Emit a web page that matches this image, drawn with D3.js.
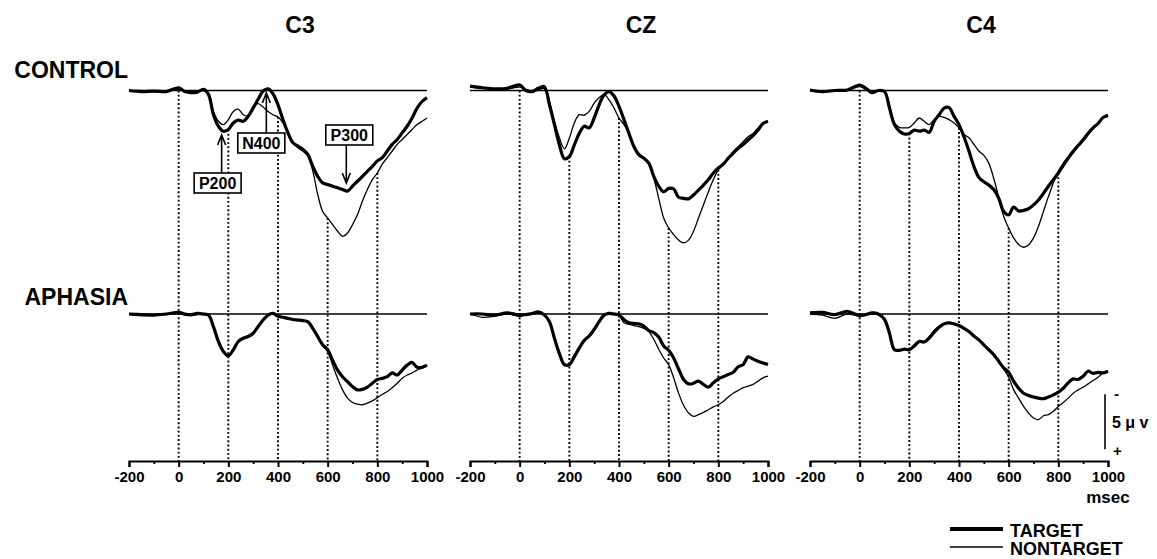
<!DOCTYPE html>
<html lang="en">
<head>
<meta charset="UTF-8">
<title>ERP waveforms C3 / CZ / C4</title>
<script src="https://cdnjs.cloudflare.com/ajax/libs/d3/7.8.5/d3.min.js"></script>
<style>
  body { margin: 0; background: #fff; }
  svg { display: block; font-family: "Liberation Sans", Arial, Helvetica, sans-serif; font-weight: bold; }
</style>
</head>
<body>
<svg id="chart" width="1157" height="559"></svg>
<script>
// time points (msec)
const msec = [-200,-150,-100,-50,0,25,50,75,100,120,140,160,180,200,220,240,260,280,300,320,340,360,380,400,
  420,440,460,480,500,520,540,560,580,600,620,640,660,680,700,720,740,760,780,800,820,840,860,880,900,920,940,960,980,1000];

const channels = ["C3", "CZ", "C4"];
const groups = ["CONTROL", "APHASIA"];
const xTicks = [-200, 0, 200, 400, 600, 800, 1000];
const xMinorTicks = [-100, 100, 300, 500, 700, 900];
const markTimes = [0, 200, 400, 600, 800];
const legendLabels = ["TARGET", "NONTARGET"];
const peakLabels = ["P200", "N400", "P300"];
const peakTimes = [173, 353, 675];

// amplitudes in uV, positive plotted downward
const c3ControlTarget = [0,0.1,0.05,0.1,-0.25,0.1,0.2,0.15,-0.1,0.35,2.2,3.25,3.7,3.55,2.95,2.7,2.8,2.35,1.6,0.8,0.05,-0.15,0.3,1.3,
  2.65,3.85,4.75,5.05,5.35,5.8,6.9,7.8,8.4,8.55,8.7,8.85,9.0,9.15,8.7,8.25,7.8,7.35,6.9,6.4,6.1,5.5,4.9,4.45,3.85,3.25,2.5,1.6,1.0,0.65];
const c3ControlNontarget = [0.05,0,0.1,0.05,-0.1,0.05,0.15,0.1,0,0.35,1.9,2.8,3.1,2.65,1.9,1.7,2.2,2.3,1.4,1.2,1.5,1.9,2.2,2.4,
  2.95,3.85,4.75,5.2,5.5,5.95,7.3,9.45,11.0,11.6,12.2,12.8,13.25,12.95,12.2,11.3,10.05,9.0,8.1,7.5,6.7,6.1,5.5,4.9,4.45,4.0,3.55,3.1,2.8,2.5];
const czControlTarget = [-0.4,-0.25,-0.15,-0.2,-0.5,0,0.1,-0.15,-0.25,1.3,3.1,4.95,6.2,6.0,4.95,3.9,3.25,3.4,2.5,1.3,0.4,0.1,0.5,1.45,
  2.65,3.9,5.1,5.85,6.15,6.6,7.8,8.7,9.2,8.9,8.95,9.7,9.8,9.85,9.5,9.05,8.6,8.1,7.5,7.05,6.7,6.15,5.7,5.25,4.9,4.5,4.1,3.6,3.0,2.8];
const czControlNontarget = [-0.3,-0.2,-0.1,-0.15,-0.3,-0.1,0,-0.3,-0.45,1.0,2.8,4.3,5.3,4.35,2.95,2.2,2.25,1.9,1.15,0.65,0.35,0.85,1.6,2.5,
  3.1,3.9,4.95,5.7,6.15,6.6,7.95,9.8,11.6,12.5,13.1,13.6,13.85,13.6,12.8,11.6,10.4,9.2,8.1,7.2,6.6,6.15,5.55,5.1,4.65,4.2,3.9,3.4,3.0,2.8];
const c4ControlTarget = [-0.05,0.1,0,-0.05,-0.5,-0.2,0.2,0,0.1,1.6,3.1,3.7,3.95,3.9,3.6,3.7,3.6,3.8,2.8,2.2,1.6,1.55,2.35,3.1,
  4.2,5.5,6.9,7.9,8.3,8.6,9.0,9.8,11.0,11.3,10.6,10.95,10.9,10.75,10.4,9.95,9.35,8.7,8.1,7.5,6.8,6.15,5.55,5.0,4.5,3.9,3.4,3.0,2.45,2.25];
const c4ControlNontarget = [0,0.15,0,0,-0.35,-0.1,0.2,0,0.05,1.3,2.95,3.35,3.4,3.35,2.95,2.5,2.8,3.1,2.65,2.35,2.45,2.65,2.95,3.4,
  4.0,4.3,4.9,5.5,5.9,6.6,8.0,9.7,11.45,12.5,13.4,14.0,14.25,14.05,13.4,12.35,11.0,9.65,8.4,7.35,6.6,6.0,5.4,4.9,4.35,3.8,3.35,3.0,2.5,2.35];

const c3AphasiaTarget = [0,0.05,0.1,0,-0.15,0,0.05,-0.05,0,0.1,1.15,2.5,3.4,3.8,3.25,2.5,2.2,2.05,1.75,1.15,0.55,0.1,-0.05,0.2,
  0.3,0.4,0.5,0.55,0.6,0.7,1.3,2.05,2.8,3.25,4.2,5.1,5.7,6.15,6.6,6.9,6.85,6.65,6.3,5.95,5.85,5.7,5.35,5.55,5.1,4.65,4.4,4.85,4.85,4.65];
const c3AphasiaNontarget = [0,0.15,0.05,0.05,-0.05,0.1,0.15,0.05,0.05,0.1,1.2,2.6,3.45,3.75,3.2,2.5,2.2,2.05,1.7,1.1,0.5,0.1,0,0.15,
  0.25,0.35,0.45,0.55,0.6,0.75,1.35,2.1,2.9,3.4,4.65,5.85,6.9,7.65,8.05,8.2,8.25,8.1,7.9,7.6,7.3,7.05,6.7,6.3,5.85,5.55,5.35,5.1,4.9,4.65];
const czAphasiaTarget = [0,0,0.1,-0.1,0.1,0.05,-0.05,-0.2,0.1,0.7,2.2,3.6,4.6,4.6,3.9,3.1,2.4,2.0,1.4,0.7,0.1,-0.05,0,0.1,
  0.5,0.8,0.85,0.9,1.1,1.5,1.7,2.1,2.9,3.3,4.0,5.0,5.95,6.35,6.3,6.1,6.4,6.65,6.25,5.9,5.7,5.5,5.3,4.8,4.6,3.9,4.1,4.3,4.45,4.6];
const czAphasiaNontarget = [0,0.3,0.2,0,0.2,0.05,0,-0.1,0.1,0.7,2.1,3.5,4.55,4.5,3.7,3.0,2.4,1.9,1.3,0.6,0.1,-0.05,0,0.1,
  0.8,0.95,1.05,1.15,1.3,1.6,2.3,3.2,4.0,4.6,5.8,7.2,8.3,9.0,9.3,9.15,8.95,8.7,8.45,8.25,7.95,7.55,7.2,6.95,6.7,6.55,6.4,6.1,5.8,5.65];
const c4AphasiaTarget = [-0.1,-0.15,0.05,-0.25,0.15,0.05,-0.1,0,0.5,1.75,3.25,3.3,3.2,3.25,2.9,2.5,2.55,2.2,1.65,1.2,0.9,0.8,0.9,1.05,
  1.3,1.6,2.0,2.35,2.8,3.25,3.7,4.3,4.9,5.3,6.1,6.75,7.2,7.4,7.55,7.65,7.7,7.55,7.35,7.1,6.75,6.25,5.9,5.95,5.65,5.2,5.4,5.3,5.35,5.2];
const c4AphasiaNontarget = [0,0.1,0.4,0,0.2,0.1,0,0,0.5,1.7,3.2,3.3,3.15,3.2,2.8,2.45,2.5,2.05,1.5,1.1,0.85,0.8,0.9,1.05,
  1.3,1.6,2.0,2.35,2.8,3.2,3.6,4.3,5.0,5.75,6.9,7.65,8.4,9.0,9.45,9.6,9.25,9.15,8.85,8.4,8.05,7.65,7.2,6.9,6.65,6.35,6.05,5.75,5.35,5.2];

const series = [
  [[c3ControlTarget, c3ControlNontarget], [czControlTarget, czControlNontarget], [c4ControlTarget, c4ControlNontarget]],
  [[c3AphasiaTarget, c3AphasiaNontarget], [czAphasiaTarget, czAphasiaNontarget], [c4AphasiaTarget, c4AphasiaNontarget]]
];

// layout
const panelLeft = [129, 470, 810];
const panelWidth = 298;
const rowZero = [90.5, 314];
const pxPerUV = 11;
const axisY = 461;
const widths = [3.2, 1.3];

const svg = d3.select("#chart");

const xScales = panelLeft.map(l => d3.scaleLinear().domain([-200, 1000]).range([l, l + panelWidth]));
const yScales = rowZero.map(z => d3.scaleLinear().domain([0, 1]).range([z, z + pxPerUV]));

// channel titles
svg.selectAll(".title").data(channels).join("text")
  .attr("class", "title")
  .attr("x", (d, i) => (panelLeft[i] + panelWidth / 2) + 22)
  .attr("y", 33)
  .attr("text-anchor", "middle")
  .attr("font-size", 23)
  .text(d => d);

// group labels
svg.selectAll(".group").data(groups).join("text")
  .attr("class", "group")
  .attr("x", 128)
  .attr("y", (d, i) => [78, 305][i])
  .attr("text-anchor", "end")
  .attr("font-size", 23)
  .text(d => d);

const line = (x, y) => d3.line()
  .x((d, i) => x(msec[i]))
  .y(d => y(d))
  .curve(d3.curveCatmullRom.alpha(0.5));

channels.forEach((ch, c) => {
  const x = xScales[c];
  const g = svg.append("g");

  // dotted latency markers, from the control curve down to the axis
  const ctl = series[0][c];
  markTimes.forEach(t => {
    const k = msec.indexOf(t);
    const v = Math.max(ctl[0][k], ctl[1][k], 0);
    g.append("line")
      .attr("x1", x(t)).attr("x2", x(t))
      .attr("y1", yScales[0](v)).attr("y2", axisY)
      .attr("stroke", "#000")
      .attr("stroke-width", 1.9)
      .attr("stroke-dasharray", "1.9,2.3");
  });

  groups.forEach((grp, r) => {
    const y = yScales[r];
    // zero baseline
    g.append("line")
      .attr("x1", x(-200)).attr("x2", x(1000))
      .attr("y1", y(0)).attr("y2", y(0))
      .attr("stroke", "#000").attr("stroke-width", 1.4);

    // nontarget first, target on top
    [1, 0].forEach(s => {
      g.append("path")
        .datum(series[r][c][s])
        .attr("fill", "none")
        .attr("stroke", "#000")
        .attr("stroke-width", widths[s])
        .attr("stroke-linejoin", "round")
        .attr("d", line(x, y));
    });
  });

  // time axis
  const ax = g.append("g").attr("transform", `translate(0,${axisY})`)
    .call(d3.axisBottom(x).tickValues(xTicks).tickFormat(d => String(d))
      .tickSize(6).tickSizeOuter(6).tickPadding(4));
  ax.attr("font-family", null);
  ax.select(".domain").attr("stroke-width", 2);
  ax.selectAll(".tick line").attr("stroke-width", 2);
  ax.selectAll("text").attr("font-size", 15).attr("font-weight", "bold").attr("fill", "#000");

  const minor = g.append("g").attr("transform", `translate(0,${axisY})`)
    .call(d3.axisBottom(x).tickValues(xMinorTicks).tickSize(3).tickFormat(""));
  minor.select(".domain").remove();
  minor.selectAll(".tick line").attr("stroke-width", 1.8);
});

// peak annotations on C3 control
const xa = xScales[0];
const boxTop = [173, 133, 125];
const tipY = [135, 93, 183];
const boxShift = [-4, -5, 3];
const boxW = 47, boxH = 20;
peakLabels.forEach((lab, i) => {
  const ax0 = xa(peakTimes[i]);
  const down = tipY[i] > boxTop[i];
  const startY = down ? boxTop[i] + boxH : boxTop[i];
  const dir = down ? -1 : 1;
  svg.append("path")
    .attr("d", `M${ax0},${startY}V${tipY[i]}M${ax0 - 4},${tipY[i] + dir * 10}L${ax0},${tipY[i]}L${ax0 + 4},${tipY[i] + dir * 10}`)
    .attr("fill", "none").attr("stroke", "#000").attr("stroke-width", 1.6);
  const cx = ax0 + boxShift[i];
  svg.append("rect")
    .attr("x", cx - boxW / 2).attr("y", boxTop[i])
    .attr("width", boxW).attr("height", boxH)
    .attr("fill", "#fff").attr("stroke", "#000").attr("stroke-width", 1.6);
  svg.append("text")
    .attr("x", cx).attr("y", boxTop[i] + 16)
    .attr("text-anchor", "middle")
    .attr("font-size", 16)
    .text(lab);
});

// msec label
svg.append("text")
  .attr("x", xScales[2](1000)).attr("y", 503)
  .attr("text-anchor", "middle")
  .attr("font-size", 17)
  .text("msec");

// 5 uV scale bar
const yb = yScales[1];
const barX = 1105;
svg.append("line")
  .attr("x1", barX).attr("x2", barX)
  .attr("y1", yb(7.3)).attr("y2", yb(12.3))
  .attr("stroke", "#000").attr("stroke-width", 1.6);
svg.append("text").attr("x", 1114).attr("y", yb(7.3) + 5).attr("font-size", 15).text("-");
svg.append("text").attr("x", 1112).attr("y", yb(9.8) + 6).attr("font-size", 16).text("5 \u03bc v");
svg.append("text").attr("x", 1113).attr("y", yb(12.3) + 7).attr("font-size", 15).text("+");

// legend
const legY = [529, 547];
legendLabels.forEach((lab, i) => {
  svg.append("line")
    .attr("x1", 950).attr("x2", 1003)
    .attr("y1", legY[i]).attr("y2", legY[i])
    .attr("stroke", "#000").attr("stroke-width", widths[i] + (i === 0 ? 0.6 : 0));
  svg.append("text")
    .attr("x", 1010).attr("y", legY[i] + 8)
    .attr("font-size", 18)
    .text(lab);
});
</script>
</body>
</html>
